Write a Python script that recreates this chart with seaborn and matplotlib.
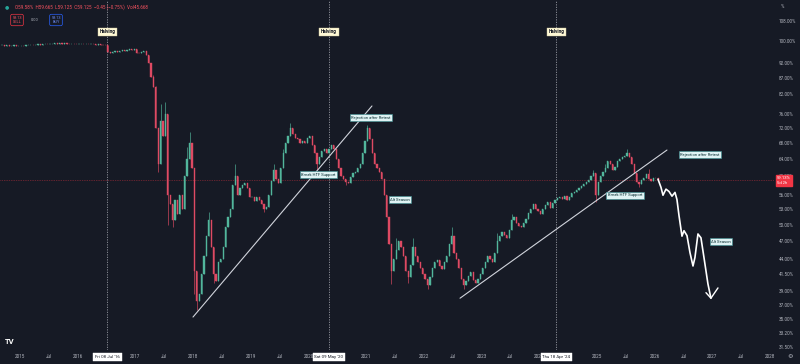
import numpy as np
import pandas as pd
import matplotlib
matplotlib.use('Agg')
import matplotlib.pyplot as plt
import matplotlib.transforms as mtransforms
from matplotlib.ticker import NullLocator
import seaborn as sns

# half-month candles (24 per year), first candle = first half of Sep 2014
start_year = 2014 + 8 / 12
closes_2014 = [98.4, 98.3, 98.5, 98.2, 98.3, 98.4, 98.2, 98.3]
closes_2015 = [98.3, 98.2, 98.4, 98.5, 98.6, 98.4, 98.7, 98.8, 98.6, 98.9, 99.0, 98.8,
               98.9, 99.1, 99.2, 99.0, 99.3, 99.1, 99.2, 99.0, 98.9, 99.1, 99.0, 98.8]
closes_2016 = [98.9, 99.1, 98.8, 99.0, 98.9, 99.1, 98.8, 98.7, 98.9, 98.6, 98.5, 98.4,
               96.0, 95.6, 96.1, 96.3, 96.0, 96.5, 96.6, 96.3, 96.8, 97.0, 96.7, 96.9]
closes_2017 = [95.7, 95.5, 95.9, 96.2, 95.0, 92.0, 87.5, 84.0, 72.0, 63.0, 74.0, 70.0,
               76.0, 56.0, 54.0, 51.0, 55.0, 52.0, 56.0, 53.0, 60.0, 64.0, 68.0, 62.0]
closes_2018 = [42.0, 37.5, 38.5, 41.5, 44.5, 48.0, 51.0, 46.0, 41.5, 40.5, 43.5, 44.0,
               46.0, 49.5, 51.5, 53.0, 58.0, 60.0, 56.0, 57.5, 58.0, 58.5, 57.5, 55.5]
closes_2019 = [55.5, 54.8, 55.5, 55.0, 54.0, 53.0, 53.5, 56.0, 59.0, 61.5, 59.5, 58.5,
               62.0, 65.5, 68.0, 70.0, 72.0, 70.5, 69.5, 69.0, 68.0, 68.7, 68.2, 69.5]
closes_2020 = [70.0, 67.5, 65.5, 63.0, 64.5, 66.0, 66.5, 65.5, 66.5, 67.5, 66.5, 64.0,
               62.0, 60.0, 59.5, 58.8, 58.5, 59.8, 60.8, 61.0, 62.0, 63.0, 65.5, 68.5]
closes_2021 = [72.0, 69.0, 65.5, 63.0, 62.0, 61.0, 59.5, 56.0, 51.5, 46.5, 42.0, 44.0,
               45.5, 47.0, 46.0, 44.5, 42.0, 41.0, 43.0, 46.0, 44.5, 43.5, 42.5, 41.5]
closes_2022 = [40.8, 39.8, 41.0, 42.5, 43.5, 43.8, 42.8, 42.3, 43.5, 44.5, 46.5, 48.0,
               45.0, 44.0, 42.5, 40.8, 39.8, 40.5, 41.2, 41.8, 40.6, 40.2, 40.7, 41.5]
closes_2023 = [42.5, 43.5, 44.5, 44.0, 43.5, 45.0, 47.0, 48.0, 48.6, 48.2, 47.6, 49.0,
               51.0, 51.5, 50.4, 49.8, 49.6, 50.4, 51.2, 52.3, 53.0, 54.0, 53.0, 52.6]
closes_2024 = [52.0, 53.0, 53.8, 54.4, 53.2, 54.2, 54.9, 55.3, 55.6, 55.2, 55.8, 55.0,
               55.6, 56.3, 56.6, 57.0, 57.5, 57.8, 58.3, 58.8, 59.3, 60.2, 60.8, 56.0]
closes_2025 = [58.8, 60.0, 61.0, 62.0, 63.5, 62.8, 61.5, 62.3, 63.5, 64.0, 64.5, 64.8,
               65.5, 64.5, 62.8, 60.8, 58.8, 58.3, 59.2, 59.6, 60.5, 59.4, 59.0, 59.6]
closes_2026 = [59.58, 59.13]

# candle index -> wick extreme, where a visible wick sticks out
wick_highs = {63: 88.0, 64: 84.5, 66: 79.0, 68: 79.5, 77: 67.0, 78: 71.0, 86: 52.5,
              97: 63.0, 113: 63.0, 117: 66.5, 120: 73.5, 152: 73.0, 164: 47.5,
              171: 47.5, 187: 49.5, 206: 48.5, 212: 52.0, 246: 61.5, 251: 63.0,
              260: 66.5, 269: 61.8}
wick_lows = {65: 61.0, 69: 50.0, 71: 49.5, 80: 38.5, 81: 36.3, 88: 40.2, 109: 52.5,
             131: 61.5, 143: 58.0, 162: 40.0, 169: 40.2, 177: 39.3, 192: 39.2,
             247: 54.5, 265: 57.6}

last_price = 59.13
halving_dates = [2016.516, 2020.355, 2024.295]
halving_tags = ["Fri 08 Jul '16", "Sat 09 May '20", "Thu 18 Apr '24"]
# 'Jul' ticks that sit under the halving date tags
hidden_jul = [2016, 2020, 2024]

# drawn trendlines and projected path
trend1_x = [2017.998, 2021.100]
trend1_y = [35.3, 78.3]
trend2_x = [2022.626, 2026.213]
trend2_y = [37.9, 66.3]
proj_x = [2026.057, 2026.109, 2026.144, 2026.196, 2026.248, 2026.300, 2026.352, 2026.386,
          2026.421, 2026.473, 2026.508, 2026.560, 2026.612, 2026.664, 2026.698, 2026.750,
          2026.802, 2026.854, 2026.923, 2026.975]
proj_y = [59.4, 57.6, 55.9, 57.2, 56.7, 55.7, 56.5, 55.0, 51.8, 47.9, 48.9, 48.0, 45.0,
          42.8, 44.2, 48.3, 47.6, 44.2, 40.0, 37.9]
arrow_x = [2026.889, 2026.975, 2027.097]
arrow_y = [38.7, 37.9, 39.4]

notes = ['Rejection after Retest', 'Break HTF Support', 'Alt Season',
         'Break HTF Support', 'Rejection after Retest', 'Alt Season']
notes_x = [2021.083, 2020.170, 2021.586, 2025.485, 2026.785, 2027.149]
notes_y = [74.9, 60.4, 55.0, 55.9, 65.1, 46.9]

price_ticks = [108, 100, 92, 87, 82, 76, 72, 68, 64, 60, 56, 53, 50, 47, 44, 41.5, 39,
               37, 35, 33.2, 31.5]
years = list(range(2015, 2029))

bg = '#161a25'
up_col = '#52b69c'
down_col = '#de4a63'
txt_col = '#b2b5be'

sns.set_theme(style='dark', rc={'axes.facecolor': bg, 'figure.facecolor': bg,
                                'axes.grid': False})
plt.rcParams['font.family'] = ['Roboto', 'DejaVu Sans']

fig = plt.figure(figsize=(8, 3.64), dpi=100)
ax = fig.add_axes([0, 14 / 364, 774 / 800, 350 / 364])
ax.set_yscale('log')

closes = np.array(closes_2014 + closes_2015 + closes_2016 + closes_2017 + closes_2018 +
                  closes_2019 + closes_2020 + closes_2021 + closes_2022 + closes_2023 +
                  closes_2024 + closes_2025 + closes_2026)
opens = np.concatenate([[closes[0]], closes[:-1]])
highs = np.maximum(opens, closes)
lows = np.minimum(opens, closes)
for i, v in wick_highs.items():
    highs[i] = v
for i, v in wick_lows.items():
    lows[i] = v
x = start_year + (np.arange(len(closes)) + 0.5) / 24
colors = [up_col if c >= o else down_col for o, c in zip(opens, closes)]

ax.vlines(x, lows, highs, colors=colors, linewidth=0.45, zorder=2)
ax.bar(x, np.abs(closes - opens), bottom=np.minimum(opens, closes), width=0.5 / 24,
       color=colors, edgecolor=colors, linewidth=0.3, zorder=2)

# current price line and halving markers
ax.axhline(last_price, color='#f23645', lw=0.5, ls=(0, (1, 1.5)), alpha=0.7, zorder=1)
blend = mtransforms.blended_transform_factory(ax.transData, ax.transAxes)
for hx, tag in zip(halving_dates, halving_tags):
    ax.axvline(hx, color='#9598a1', lw=0.6, ls=(0, (1.5, 1.5)), zorder=1)
    ax.text(hx, 1 - 32 / 350, 'Halving', transform=blend, ha='center', va='center',
            fontsize=3.4, fontweight='bold', color='#131722', zorder=5,
            bbox=dict(boxstyle='square,pad=0.35', fc='#fff9d6', ec='#c9c29a', lw=0.3))
    ax.text(hx, -7 / 350, tag, transform=blend, ha='center', va='center', fontsize=3.2,
            color='#131722', zorder=6, clip_on=False,
            bbox=dict(boxstyle='square,pad=0.4', fc='white', ec='white', lw=0.3))

# drawings
sns.lineplot(x=trend1_x, y=trend1_y, color='#d1d4dc', lw=0.8, estimator=None, ax=ax)
sns.lineplot(x=trend2_x, y=trend2_y, color='#d1d4dc', lw=0.8, estimator=None, ax=ax)
sns.lineplot(x=proj_x, y=proj_y, color='white', lw=1.2, sort=False, estimator=None, ax=ax)
sns.lineplot(x=arrow_x, y=arrow_y, color='white', lw=1.0, sort=False, estimator=None, ax=ax)

for t, nx, ny in zip(notes, notes_x, notes_y):
    ax.text(nx, ny, t, ha='center', va='center', fontsize=3.0, color='#0d2f33', zorder=5,
            bbox=dict(boxstyle='square,pad=0.35', fc='#dff3f4', ec='#3a8f93', lw=0.4))

ax.set_xlim(2014.653, 2028.068)
ax.set_ylim(31.17, 116.8)

xt, xl = [], []
for y in years:
    xt.append(y)
    xl.append(str(y))
    if y < 2028 and y not in hidden_jul:
        xt.append(y + 0.5)
        xl.append('Jul')
ax.set_xticks(xt)
ax.set_xticklabels(xl)
ax.yaxis.tick_right()
ax.set_yticks(price_ticks)
ax.set_yticklabels([f'{v:.2f}%' for v in price_ticks])
ax.yaxis.set_minor_locator(NullLocator())
ax.tick_params(axis='x', colors=txt_col, labelsize=3.3, length=0, pad=3)
ax.tick_params(axis='y', colors=txt_col, labelsize=3.3, length=0, pad=3.5)
ax.set_xlabel('')
ax.set_ylabel('')
for s in ax.spines.values():
    s.set_visible(False)

# last price tag on the scale
yblend = mtransforms.blended_transform_factory(ax.transAxes, ax.transData)
ax.text(1 + 3 / 774, last_price, '59.13%\n5d 2h', transform=yblend, ha='left', va='center',
        fontsize=3.0, color='white', linespacing=1.1, zorder=6, clip_on=False,
        bbox=dict(boxstyle='square,pad=0.3', fc='#f23645', ec='#f23645'))

# header overlay
fig.text(5 / 800, 1 - 7 / 364, '\u25cf', color='#26a69a', fontsize=3.5, va='center')
fig.text(15 / 800, 1 - 7 / 364,
         'O59.58%  H59.665  L59.125  C59.125  \u22120.45 (\u22120.75%)  Vol45.668',
         color='#f7525f', fontsize=3.3, va='center')
fig.text(17 / 800, 1 - 20 / 364, '59.13\nSELL', color='#f7525f', fontsize=2.8,
         ha='center', va='center', linespacing=1.1,
         bbox=dict(boxstyle='round,pad=0.4', fc=bg, ec='#f23645', lw=0.5))
fig.text(35 / 800, 1 - 20 / 364, '0.00', color=txt_col, fontsize=2.8, ha='center',
         va='center')
fig.text(56 / 800, 1 - 20 / 364, '59.13\nBUY', color='#6d8df7', fontsize=2.8,
         ha='center', va='center', linespacing=1.1,
         bbox=dict(boxstyle='round,pad=0.4', fc=bg, ec='#2962ff', lw=0.5))
fig.text(781 / 800, 1 - 6 / 364, '%', color=txt_col, fontsize=3.3, va='center')
fig.text(5 / 800, 1 - 341 / 364, 'TV', color='white', fontsize=5.5, fontweight='bold',
         va='center')
fig.text(790 / 800, 1 - 357 / 364, '\u2699', color=txt_col, fontsize=4.5, ha='center',
         va='center', family='DejaVu Sans')

fig.savefig('out.png', dpi=100, facecolor=bg)
